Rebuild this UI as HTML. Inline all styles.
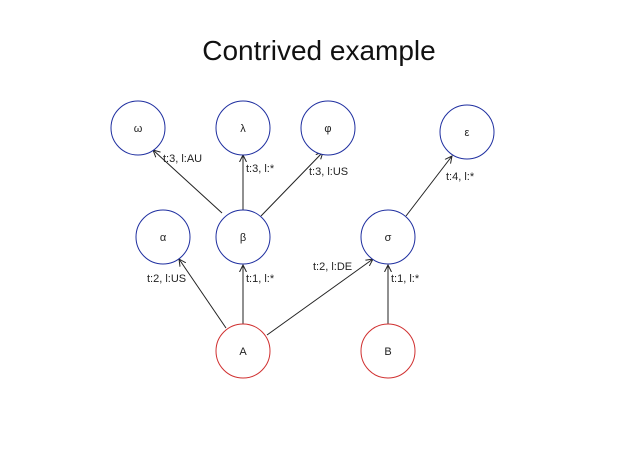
<!DOCTYPE html>
<html><head><style>
html,body{margin:0;padding:0;background:#fff;}
svg{display:block;font-family:"Liberation Sans",sans-serif;}
</style></head><body>
<svg width="638" height="454" viewBox="0 0 638 454" xmlns="http://www.w3.org/2000/svg">
<defs><marker id="ar" markerWidth="8" markerHeight="8" refX="7" refY="4" orient="auto" markerUnits="userSpaceOnUse"><path d="M0,0.5 L7,4 L0,7.5" fill="none" stroke="#222" stroke-width="1"/></marker></defs>
<text x="319" y="60" font-size="28" text-anchor="middle" fill="#111">Contrived example</text>
<g stroke="#222" stroke-width="1" marker-end="url(#ar)">
<line x1="226" y1="328" x2="179" y2="259"/>
<line x1="243" y1="324" x2="243" y2="265"/>
<line x1="267" y1="335" x2="373" y2="259"/>
<line x1="388" y1="324" x2="388" y2="265"/>
<line x1="222" y1="213" x2="153" y2="150"/>
<line x1="243" y1="210" x2="243" y2="155"/>
<line x1="261" y1="216" x2="323" y2="152"/>
<line x1="406" y1="216" x2="452" y2="156"/>
</g>
<g fill="#fff" stroke="#1f2fa0" stroke-width="1">
<circle cx="138" cy="128" r="27"/><circle cx="243" cy="128" r="27"/><circle cx="328" cy="128" r="27"/><circle cx="467" cy="132" r="27"/>
<circle cx="163" cy="237" r="27"/><circle cx="243" cy="237" r="27"/><circle cx="388" cy="237" r="27"/>
</g>
<g fill="#fff" stroke="#d03030" stroke-width="1">
<circle cx="243" cy="351" r="27"/><circle cx="388" cy="351" r="27"/>
</g>
<g font-size="11" fill="#222" text-anchor="middle">
<text x="138" y="132">ω</text><text x="243" y="132">λ</text><text x="328" y="132">φ</text><text x="467" y="136">ε</text>
<text x="163" y="241">α</text><text x="243" y="241">β</text><text x="388" y="241">σ</text>
<text x="243" y="355">A</text><text x="388" y="355">B</text>
</g>
<g font-size="11" fill="#222">
<text x="163" y="162">t:3, l:AU</text>
<text x="246" y="172">t:3, l:*</text>
<text x="309" y="175">t:3, l:US</text>
<text x="446" y="180">t:4, l:*</text>
<text x="147" y="282">t:2, l:US</text>
<text x="246" y="282">t:1, l:*</text>
<text x="313" y="270">t:2, l:DE</text>
<text x="391" y="282">t:1, l:*</text>
</g>
</svg>
</body></html>
